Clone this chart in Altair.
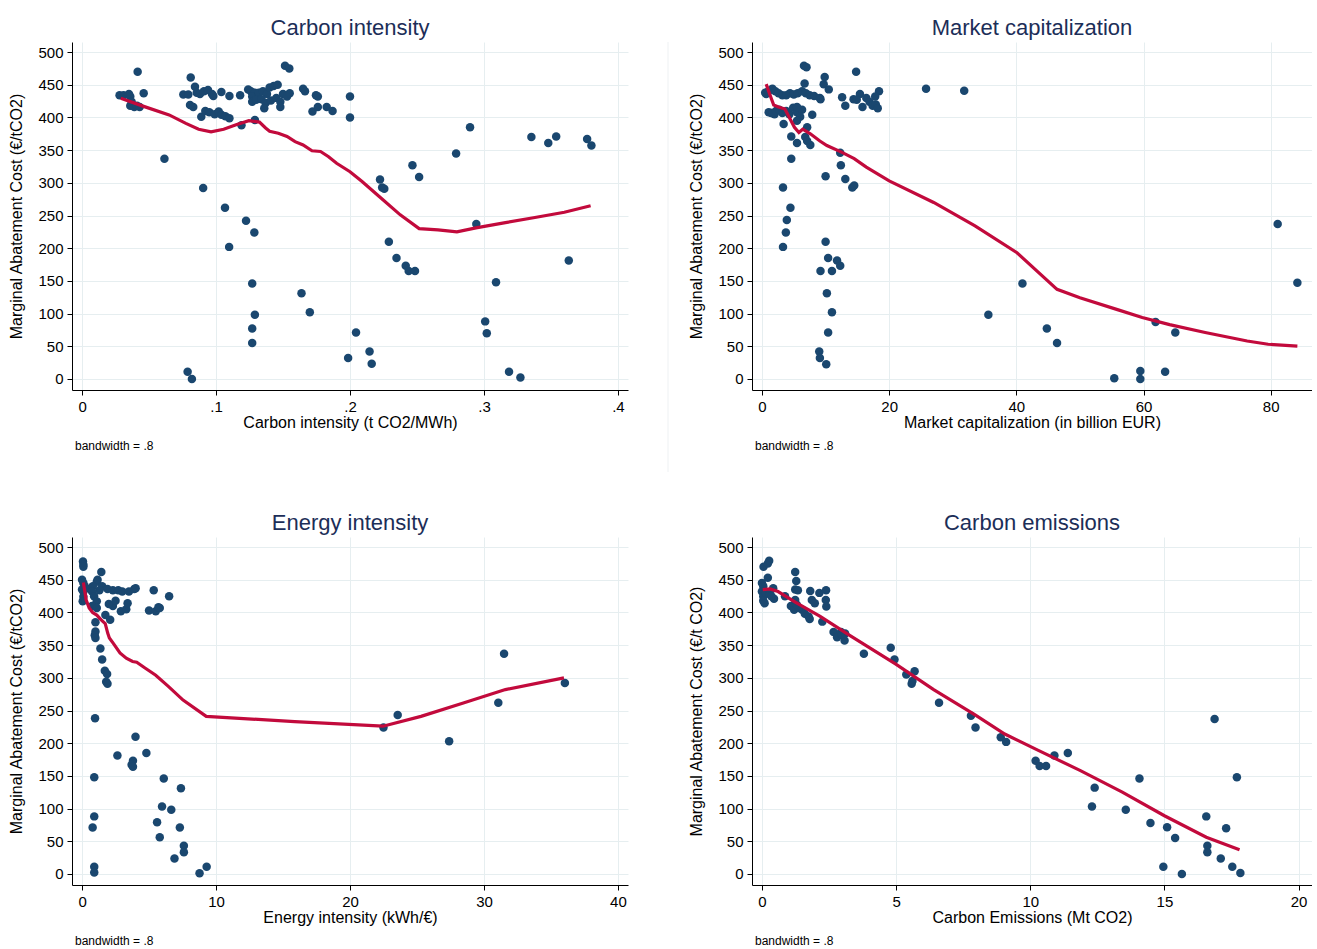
import altair as alt
import pandas as pd

# ---------------- Panel 1: Carbon intensity ----------------
ci_x = [0.028, 0.031, 0.035, 0.036, 0.037, 0.036, 0.039, 0.041, 0.043, 0.0415, 0.046,
        0.0615,
        0.0756, 0.0793, 0.0811, 0.0843, 0.0806, 0.083, 0.0856, 0.088, 0.091, 0.094, 0.097, 0.098,
        0.089, 0.092, 0.095, 0.099, 0.102, 0.104, 0.107, 0.110, 0.104, 0.110,
        0.0904, 0.1067, 0.1098, 0.0788, 0.082,
        0.118, 0.119, 0.124, 0.126, 0.129, 0.127, 0.127, 0.132, 0.135, 0.138, 0.140, 0.143, 0.146,
        0.150, 0.153, 0.155, 0.130, 0.134, 0.137, 0.141, 0.145, 0.148, 0.136, 0.148, 0.129,
        0.1515, 0.1547, 0.1224, 0.127, 0.127, 0.127, 0.1286, 0.129,
        0.165, 0.1664, 0.1746, 0.176, 0.172, 0.176, 0.1826, 0.187, 0.1638, 0.170,
        0.2, 0.2, 0.1986, 0.2045, 0.2146, 0.2162, 0.2224, 0.224, 0.2256, 0.229, 0.2347, 0.2416,
        0.2438, 0.2485, 0.2466, 0.2516, 0.2792, 0.2896, 0.2943, 0.3009, 0.3021, 0.309, 0.3187,
        0.3272, 0.3354, 0.348, 0.3539, 0.3633, 0.377, 0.3802]
ci_y = [434, 434, 436, 432, 424, 418, 416, 418, 416, 470, 437,
        337,
        435, 435, 461, 447, 419, 416, 438, 436, 440, 442, 436, 433,
        401, 410, 408, 405, 409, 404, 402, 399, 439, 433,
        292, 262, 202, 11, 0,
        434, 388, 443, 440, 438, 432, 424, 438, 440, 436, 446, 448, 450,
        436, 432, 437, 427, 428, 422, 426, 430, 424, 414, 416, 396,
        479, 475, 242, 146, 77, 55, 224, 98,
        444, 440, 434, 432, 409, 416, 416, 410, 131, 102,
        432, 400, 32, 71, 42, 23, 305, 293, 291, 210, 185, 173,
        165, 165, 327, 309, 345, 385, 237, 88, 70, 148, 11,
        2, 370, 361, 371, 181, 367, 357]
ci_lx = [0.0289, 0.046, 0.065, 0.0775, 0.087, 0.0963, 0.1057, 0.115, 0.1245, 0.1324, 0.137,
         0.140, 0.1465, 0.153, 0.159, 0.165, 0.1716, 0.178, 0.184, 0.190, 0.200, 0.209, 0.2218,
         0.2375, 0.2516, 0.2657, 0.2798, 0.294, 0.316, 0.338, 0.36, 0.3796]
ci_ly = [429.5, 417, 404, 391, 382, 378, 382, 389, 395, 393, 384,
         379, 376, 371, 363, 358, 349, 348, 340, 330, 317, 302, 279,
         251, 230, 228, 225, 231, 239, 247, 255, 265]

# ---------------- Panel 2: Market capitalization ----------------
mc_x = [0.66, 1.64, 1.45, 1.97,
        0.5, 1.0, 1.5, 2.1, 2.6, 3.2, 3.8, 4.4, 5.0, 5.6, 6.3, 6.9, 7.5, 8.2, 9.2, 9.1,
        6.6, 7.0, 6.7, 9.7, 9.86, 10.5, 14.8,
        12.6, 13.1, 14.4, 15.4, 15.8, 16.4, 16.9, 17.4, 17.9, 18.2, 18.4, 17.8, 14.9,
        25.8, 31.8,
        1.05, 1.6, 2.2, 2.7, 3.2, 3.8, 4.3, 4.9, 5.5, 6.3, 5.5, 6.0, 5.5, 7.9, 7.1, 3.4,
        4.6, 5.5, 6.8, 7.1, 7.6, 4.6,
        12.3, 12.4, 13.1, 14.2, 14.5, 10.0, 3.3,
        4.47, 3.9, 3.75, 3.3, 10.0, 10.4, 11.8, 12.3, 9.2, 11.0, 10.2, 11.0, 10.4, 9.0, 9.1, 10.1,
        40.96, 35.6, 44.8, 46.4, 55.4, 59.5, 59.5, 63.4, 61.9, 65.0, 81.1, 84.2]
mc_y = [436, 444, 407, 405,
        438, 440, 443, 440, 437, 434, 434, 437, 435, 437, 440, 437, 434, 433, 428, 430,
        479, 477, 452, 451, 462, 443, 470,
        431, 418, 428, 436, 416, 430, 424, 418, 420, 414, 440, 432, 427,
        444, 441,
        408, 407, 410, 412, 407, 410, 405, 415, 408, 412, 416, 401, 395, 404, 385, 390,
        371, 361, 370, 364, 358, 337,
        346, 327, 306, 293, 296, 310, 293,
        262, 243, 224, 202, 210, 185, 181, 173, 165, 165, 131, 102, 71, 42, 32, 22.5,
        146, 98, 77, 55, 1, 12, 0, 11, 87, 71, 237, 147]
mc_lx = [0.66, 1.2, 1.84, 2.6, 3.6, 4.3, 5.1, 5.8, 6.4, 7.6, 9.1, 10.2, 12.5, 14.5, 16.4,
         20, 27, 33.5, 40.1, 46.4, 50, 55.9, 59.8, 64.1, 69.7, 76.3, 79.6, 84.2]
mc_ly = [451, 436, 419, 416, 413, 400, 385, 377, 382, 375, 364, 357, 347, 337, 324,
         303, 270, 234, 193, 137, 124, 106, 94, 83, 71, 58, 53, 50]

# ---------------- Panel 3: Energy intensity ----------------
ei_x = [0.07, 0.1, 0.1, 1.44, 1.16,
        0.0, 0.1, 0.2, 0.0, 0.1, 0.1, 0.05,
        1.1, 1.5, 1.3, 1.9, 2.3, 2.7, 3.0, 3.5, 3.9, 4.0, 0.6, 0.8,
        0.75, 0.9, 1.1, 0.75, 1.1,
        2.3, 2.0, 2.5, 2.9, 3.3, 3.4,
        5.35, 6.5, 5.0, 5.5, 5.7, 5.8,
        1.74, 2.1, 1.0, 1.0, 0.95, 1.0, 1.37, 1.5, 1.7, 1.87, 1.8, 1.9,
        0.97, 0.91, 0.91, 0.79, 0.91, 0.91,
        3.99, 2.64, 3.8, 3.7, 3.8, 4.8, 6.1, 5.97, 6.66, 7.38, 5.6, 5.8, 7.3, 7.6, 7.6, 6.9, 8.77, 9.3,
        22.5, 23.56, 27.4, 31.07, 31.5, 36.04]
ei_y = [478, 473, 470, 462, 450,
        450, 445, 440, 435, 432, 424, 417,
        447, 440, 434, 436, 434, 434, 432, 432, 436, 437, 436, 440,
        432, 425, 417, 410, 407,
        410, 413, 418, 402, 405, 414,
        434, 425, 403, 402, 408, 407,
        396, 389, 385, 371, 365, 361, 345, 328, 311, 306, 294, 291,
        238, 148, 88, 71, 11, 2,
        210, 181, 173, 167, 164, 185, 146, 103, 98, 131, 79, 56, 71, 43, 33, 23.5, 1, 11,
        224, 243, 203, 262, 337, 292]
ei_lx = [0.1, 0.31, 0.53, 0.79, 1.1, 1.41, 1.73, 1.92, 2.04, 2.36, 2.83, 3.3, 3.77, 4.08,
         4.7, 5.5, 6.44, 7.54, 9.27, 15.87, 22.46, 25.3, 28.4, 31.6, 35.97]
ei_ly = [446, 419, 407, 400, 396, 389, 383, 368, 361, 352, 338, 330, 325, 324,
         315, 304, 287, 266, 241, 233, 226, 241, 261, 282, 300]

# ---------------- Panel 4: Carbon emissions ----------------
ce_x = [0.06, 0.22, 0.27, 0.22,
        0.0, 0.05, 0.0, 0.05, 0.05, 0.1, 0.15, 0.3,
        0.42, 0.45, 0.35,
        0.86, 1.24, 1.28, 1.24, 1.34,
        1.08, 1.24, 1.2, 1.39, 1.3, 1.5,
        1.6, 1.78, 1.74,
        1.8, 1.86, 1.97, 2.14, 2.25, 2.39, 2.38, 2.4,
        2.67, 2.8, 2.95, 3.08, 2.98, 3.1,
        3.8, 4.8, 4.94, 5.38, 5.69, 5.58, 5.61, 6.6, 7.79, 7.96, 8.9, 9.1, 10.2, 10.35, 10.59,
        10.9, 11.4, 12.3, 12.4, 13.56, 14.07, 14.48, 14.96, 15.1, 15.4, 15.65, 16.56, 16.6,
        16.6, 16.87, 17.3, 17.1, 17.53, 17.7, 17.83]
ce_y = [470, 475, 479, 453,
        445, 440, 432, 425, 418, 414, 430, 428,
        437, 421, 425,
        425, 462, 448, 435, 434,
        410, 419, 404, 407, 412, 404,
        398, 390, 394,
        433, 419, 414, 430, 386, 434, 419, 409,
        370, 362, 370, 357, 366, 368,
        337, 346, 328, 305, 310, 291, 295, 262, 242, 224, 209, 202, 173, 165, 165,
        181, 185, 103, 132, 98, 146, 78, 11, 71.5, 55, 0, 88, 43,
        33, 237, 70, 23.5, 11, 148, 1.5]
ce_lx = [0.03, 0.3, 0.6, 1.24, 2.17, 3.27, 4.99, 6.4, 7.96, 9.05, 10.3, 11.87, 13.43, 15.0, 16.56, 17.8]
ce_ly = [435, 436, 432, 416, 394, 365, 321, 282, 243, 214, 189, 158, 125, 89, 56, 37]

y_ticks = [0, 50, 100, 150, 200, 250, 300, 350, 400, 450, 500]

NAVY = "#1a476f"
RED = "#c20a3c"
FONT = "Liberation Sans"

H = 348


def panel(px, py, lx, ly, title, xtitle, ytitle, xdom, xvals, width, label_expr=None, sep=False):
    pts = pd.DataFrame({"x": px, "y": py})
    line = pd.DataFrame({"x": lx, "y": ly})
    xaxis_kw = dict(values=xvals, title=xtitle, labelOverlap=False, labelFlush=False)
    if label_expr:
        xaxis_kw["labelExpr"] = label_expr
    xenc = alt.X("x:Q", scale=alt.Scale(domain=xdom, nice=False, zero=False),
                 axis=alt.Axis(**xaxis_kw))
    yenc = alt.Y("y:Q", scale=alt.Scale(domain=[-17, 515.5], nice=False, zero=False),
                 axis=alt.Axis(values=y_ticks, title=ytitle, labelOverlap=False,
                               labelFlush=False, tickCount=11))
    scatter = alt.Chart(pts).mark_circle(size=72, color=NAVY, opacity=1).encode(x=xenc, y=yenc)
    lw = alt.Chart(line).mark_line(color=RED, strokeWidth=3.2).encode(x=xenc, y=yenc)
    note = alt.Chart(pd.DataFrame({"t": ["bandwidth = .8"]})).mark_text(
        align="left", baseline="middle", fontSize=12, font=FONT, color="#000"
    ).encode(x=alt.value(3), y=alt.value(H + 56), text="t:N")
    layers = [scatter, lw, note]
    if sep:
        rule = alt.Chart(pd.DataFrame({"a": [0]})).mark_rule(color="#eef1f3", strokeWidth=1).encode(
            x=alt.value(596), y=alt.value(0), y2=alt.value(430))
        layers = [rule] + layers
    return alt.layer(*layers).properties(
        width=width, height=H,
        title=alt.TitleParams(title, fontSize=22, font=FONT, fontWeight="normal",
                              color="#1c2e58", anchor="middle", frame="group", offset=2)
    )


dot_expr = "datum.value == 0 ? '0' : replace(format(datum.value, '.1f'), '0.', '.')"

p1 = panel(ci_x, ci_y, ci_lx, ci_ly, "Carbon intensity", "Carbon intensity (t CO2/MWh)",
           "Marginal Abatement Cost (€/tCO2)", [-0.0075, 0.4075], [0, 0.1, 0.2, 0.3, 0.4],
           556, label_expr=dot_expr, sep=True)
p2 = panel(mc_x, mc_y, mc_lx, mc_ly, "Market capitalization", "Market capitalization (in billion EUR)",
           "Marginal Abatement Cost (€/tCO2)", [-1.575, 86.5], [0, 20, 40, 60, 80], 560)
p3 = panel(ei_x, ei_y, ei_lx, ei_ly, "Energy intensity", "Energy intensity (kWh/€)",
           "Marginal Abatement Cost (€/tCO2)", [-0.75, 40.75], [0, 10, 20, 30, 40], 556)
p4 = panel(ce_x, ce_y, ce_lx, ce_ly, "Carbon emissions", "Carbon Emissions (Mt CO2)",
           "Marginal Abatement Cost (€/t CO2)", [-0.37, 20.5], [0, 5, 10, 15, 20], 560)

chart = alt.concat(p1, p2, p3, p4, columns=2, spacing={"row": 147, "column": 124},
                   bounds="flush").properties(
    padding={"left": 8, "top": 16, "right": 0, "bottom": 0},
    background="#ffffff",
).configure_view(stroke=None).configure_axis(
    domainColor="#000000", domainWidth=1, tickColor="#000000", tickSize=5, tickWidth=1,
    gridColor="#e6eef0", gridWidth=1,
    labelFont=FONT, labelFontSize=15, labelColor="#000000", labelPadding=4,
    labelOverlap=False, labelFlush=False,
    titleFont=FONT, titleFontSize=16, titleFontWeight="normal", titleColor="#000000",
).configure_axisY(labelAngle=0, titlePadding=13).configure_axisX(titlePadding=0)

chart.save("out.html", embed_options={"renderer": "svg", "actions": False})
